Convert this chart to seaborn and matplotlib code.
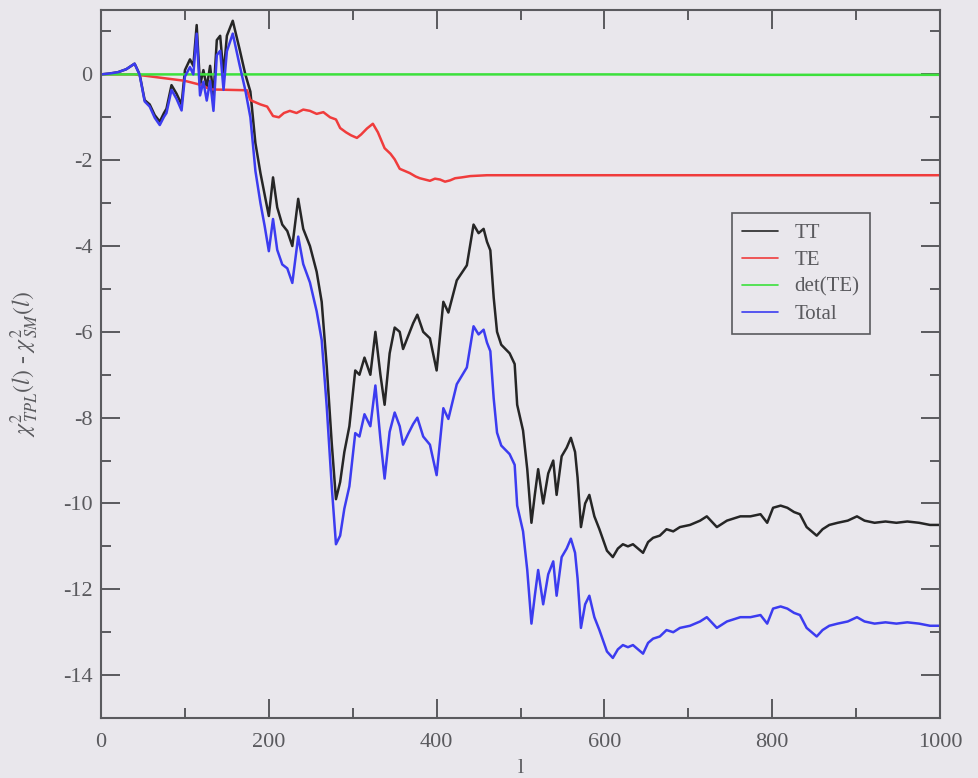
import numpy as np
import pandas as pd
import matplotlib
matplotlib.use("Agg")
import matplotlib.pyplot as plt
import seaborn as sns
from matplotlib.ticker import MultipleLocator

l_tt = [0, 10, 20, 30, 40, 46, 52, 58, 64, 70, 75, 78, 84, 90, 96, 100, 106, 110, 114, 118,
        122, 126, 130, 134, 138, 142, 146, 150, 157, 165, 172, 178, 184, 190, 195, 200, 205,
        210, 216, 222, 228, 235, 241, 249, 257, 263, 269, 275, 280, 285, 290, 296, 303, 308,
        314, 321, 327, 333, 338, 344, 350, 356, 360, 366, 372, 377, 384, 392, 400, 408, 414,
        424, 436, 444, 450, 456, 460, 464, 468, 472, 477, 487, 493, 496, 503, 508, 513, 517,
        521, 527, 533, 539, 543, 549, 555, 560, 565, 568, 572, 577, 582, 588, 594, 603, 610,
        616, 622, 628, 634, 640, 646, 652, 658, 666, 674, 682, 690, 702, 714, 722, 734, 746,
        754, 762, 774, 786, 794, 801, 810, 818, 826, 833, 841, 853, 860, 868, 878, 890, 901,
        910, 922, 935, 948, 961, 975, 988, 1000]

tt = [0.0, 0.02, 0.05, 0.12, 0.25, 0.0, -0.6, -0.7, -0.95, -1.1, -0.9, -0.8, -0.25, -0.45,
      -0.7, 0.1, 0.35, 0.2, 1.15, -0.25, 0.1, -0.3, 0.2, -0.5, 0.8, 0.9, 0.0, 0.9, 1.25, 0.6,
      0.0, -0.4, -1.6, -2.3, -2.8, -3.3, -2.4, -3.1, -3.5, -3.65, -4.0, -2.9, -3.6, -4.0, -4.6,
      -5.3, -6.8, -8.6, -9.9, -9.5, -8.8, -8.2, -6.9, -7.0, -6.6, -7.0, -6.0, -7.0, -7.7, -6.5,
      -5.9, -6.0, -6.4, -6.1, -5.8, -5.6, -6.0, -6.15, -6.9, -5.3, -5.55, -4.8, -4.45, -3.5,
      -3.7, -3.6, -3.9, -4.1, -5.2, -6.0, -6.3, -6.5, -6.75, -7.7, -8.3, -9.2, -10.45, -9.8,
      -9.2, -10.0, -9.3, -9.0, -9.8, -8.9, -8.7, -8.47, -8.8, -9.4, -10.55, -10.0, -9.8, -10.3,
      -10.6, -11.1, -11.25, -11.05, -10.95, -11.0, -10.95, -11.05, -11.15, -10.9, -10.8,
      -10.75, -10.6, -10.65, -10.55, -10.5, -10.4, -10.3, -10.55, -10.4, -10.35, -10.3, -10.3,
      -10.25, -10.45, -10.1, -10.05, -10.1, -10.2, -10.25, -10.55, -10.75, -10.6, -10.5,
      -10.45, -10.4, -10.3, -10.4, -10.45, -10.42, -10.45, -10.42, -10.45, -10.5, -10.5]

total = [0.0, 0.02, 0.05, 0.12, 0.25, -0.01, -0.63, -0.75, -1.01, -1.18, -0.99, -0.9, -0.36,
         -0.57, -0.84, -0.05, 0.17, 0.0, 0.95, -0.49, -0.17, -0.61, -0.15, -0.85, 0.45, 0.55,
         -0.36, 0.54, 0.95, 0.23, -0.37, -1.0, -2.25, -3.0, -3.53, -4.12, -3.37, -4.09, -4.43,
         -4.52, -4.86, -3.78, -4.42, -4.85, -5.52, -6.19, -7.74, -9.61, -10.95, -10.75, -10.12,
         -9.6, -8.36, -8.44, -7.92, -8.2, -7.25, -8.5, -9.42, -8.33, -7.88, -8.2, -8.63, -8.38,
         -8.15, -8.0, -8.44, -8.63, -9.34, -7.78, -8.03, -7.22, -6.83, -5.87, -6.06, -5.95,
         -6.25, -6.45, -7.55, -8.35, -8.65, -8.85, -9.1, -10.05, -10.65, -11.55, -12.8, -12.15,
         -11.55, -12.35, -11.65, -11.35, -12.15, -11.25, -11.05, -10.82, -11.15, -11.75, -12.9,
         -12.35, -12.15, -12.65, -12.95, -13.45, -13.6, -13.4, -13.3, -13.35, -13.3, -13.4,
         -13.5, -13.25, -13.15, -13.1, -12.95, -13.0, -12.9, -12.85, -12.75, -12.65, -12.9,
         -12.75, -12.7, -12.65, -12.65, -12.6, -12.8, -12.45, -12.4, -12.45, -12.55, -12.6,
         -12.9, -13.1, -12.95, -12.85, -12.8, -12.75, -12.65, -12.75, -12.8, -12.77, -12.8,
         -12.77, -12.8, -12.85, -12.85]

l_te = [0, 40, 60, 80, 100, 120, 130, 174, 178, 190, 198, 205, 212, 218, 225, 233, 241, 249,
        257, 265, 273, 280, 285, 292, 298, 305, 310, 317, 324, 330, 338, 345, 350, 356, 362,
        368, 375, 380, 386, 392, 398, 404, 410, 416, 422, 430, 440, 450, 460, 600, 800, 1000]
te = [0.0, 0.0, -0.05, -0.1, -0.15, -0.25, -0.35, -0.37, -0.6, -0.7, -0.75, -0.97, -1.0,
      -0.9, -0.85, -0.9, -0.82, -0.85, -0.92, -0.88, -1.0, -1.05, -1.25, -1.35, -1.42, -1.48,
      -1.4, -1.26, -1.15, -1.35, -1.72, -1.85, -1.98, -2.2, -2.25, -2.3, -2.38, -2.42, -2.45,
      -2.48, -2.43, -2.45, -2.5, -2.47, -2.42, -2.4, -2.37, -2.36, -2.35, -2.35, -2.35, -2.35]

l_det = [0, 200, 400, 600, 800, 1000]
det_te = [0.0, 0.0, 0.0, 0.0, -0.01, -0.01]

series = ["TT", "TE", "det(TE)", "Total"]
colors = {"TT": "#262626", "TE": "#f03c3c", "det(TE)": "#3ce03c", "Total": "#3c3cf0"}

df = pd.concat([
    pd.DataFrame({"l": l_tt, "chi2": tt, "set": "TT"}),
    pd.DataFrame({"l": l_te, "chi2": te, "set": "TE"}),
    pd.DataFrame({"l": l_det, "chi2": det_te, "set": "det(TE)"}),
    pd.DataFrame({"l": l_tt, "chi2": total, "set": "Total"}),
])

bg = "#e9e7ec"
fg = "#5a5a5e"
sns.set_theme(style="ticks")
plt.rcParams["font.family"] = ["Liberation Serif", "DejaVu Serif"]
plt.rcParams["mathtext.fontset"] = "stix"
plt.rcParams["axes.unicode_minus"] = False

fig = plt.figure(figsize=(9.79, 7.78), dpi=100, facecolor=bg)
ax = fig.add_axes([0.1032, 0.0771, 0.857, 0.91])
ax.set_facecolor(bg)

sns.lineplot(data=df, x="l", y="chi2", hue="set", hue_order=series, palette=colors,
             estimator=None, sort=False, linewidth=1.8, ax=ax)

ax.set_xlim(0, 1000)
ax.set_ylim(-15, 1.5)
ax.xaxis.set_major_locator(MultipleLocator(200))
ax.xaxis.set_minor_locator(MultipleLocator(100))
ax.yaxis.set_major_locator(MultipleLocator(2))
ax.yaxis.set_minor_locator(MultipleLocator(1))
ax.tick_params(which="both", direction="in", top=True, right=True, colors=fg,
               labelcolor=fg, width=1.4, labelsize=16)
ax.tick_params(which="major", length=14)
ax.tick_params(which="minor", length=7.5)
ax.tick_params(axis="x", pad=11)
ax.tick_params(axis="y", pad=6)
for s in ax.spines.values():
    s.set_color(fg)
    s.set_linewidth(1.5)

ax.set_xlabel("l", fontsize=16, color=fg)
ax.set_ylabel(r"$\chi^2_{\,TPL}(l)$ - $\chi^2_{\,SM}(l)$", fontsize=17, color=fg)
ax.xaxis.set_label_coords(0.5, -0.058)
ax.yaxis.set_label_coords(-0.072, 0.5)

h, lab = ax.get_legend_handles_labels()
leg = ax.legend(h, lab, loc="upper left", bbox_to_anchor=(0.752, 0.713), fontsize=15,
                frameon=True, fancybox=False, framealpha=1, edgecolor=fg, facecolor=bg,
                handlelength=1.7, handletextpad=0.8, labelspacing=0.35, borderpad=0.5,
                borderaxespad=0)
leg.get_frame().set_linewidth(1.2)
for t in leg.get_texts():
    t.set_color(fg)
for line in leg.get_lines():
    line.set_linewidth(1.2)

fig.savefig("out.png", dpi=100, facecolor=bg)
